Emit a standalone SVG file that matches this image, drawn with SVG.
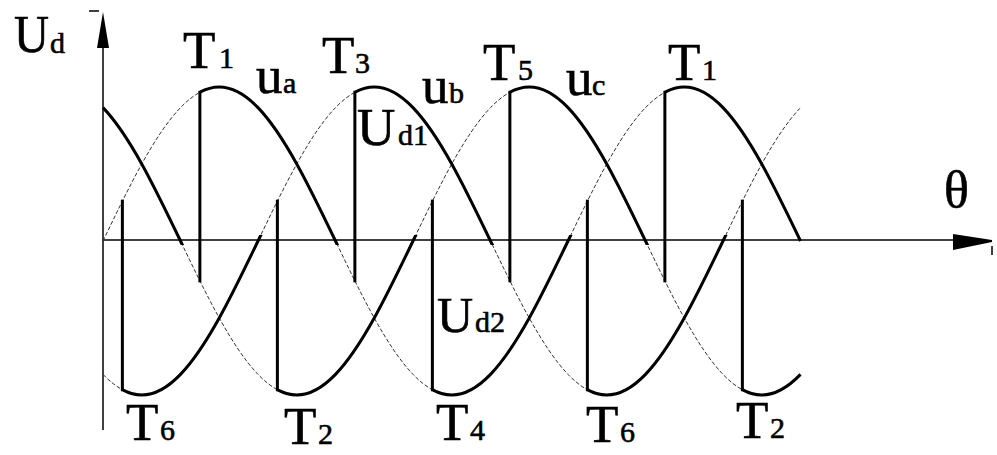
<svg xmlns="http://www.w3.org/2000/svg" xmlns:xlink="http://www.w3.org/1999/xlink" width="997" height="455" viewBox="0 0 997 455">
<style>
.thin{fill:none;stroke:#333;stroke-width:1;stroke-dasharray:4 2}
.thick{fill:none;stroke:#000;stroke-width:3;stroke-linejoin:round}
.vert{stroke:#000;stroke-width:3;stroke-linecap:square}
.axis{stroke:#000;stroke-width:1.5;fill:none}
text{font-family:"Liberation Serif","Times New Roman",serif;fill:#000;stroke:#000;stroke-width:0.6}
.m{font-size:53px}
.s{font-size:30px}
</style>
<defs>
<path id="ua" d="M103,241 C115.92,214.12 128.83,187.28 141.75,164 S167.58,121.07 180.5,107.63 S206.33,87 219.25,87 S245.08,94.19 258,107.63 S283.83,140.72 296.75,164 S322.58,214.12 335.5,241 S361.33,294.72 374.25,318 S400.08,360.93 413,374.37 S438.83,395 451.75,395 S477.58,387.81 490.5,374.37 S516.33,341.28 529.25,318 S555.08,267.88 568,241 S593.83,187.28 606.75,164 S632.58,121.07 645.5,107.63 S671.33,87 684.25,87 S710.08,94.19 723,107.63 S748.83,140.72 761.75,164 S787.58,214.12 800.5,241"/>
<path id="ub" d="M103,374.37 C115.92,387.81 128.83,395 141.75,395 S167.58,387.81 180.5,374.37 S206.33,341.28 219.25,318 S245.08,267.88 258,241 S283.83,187.28 296.75,164 S322.58,121.07 335.5,107.63 S361.33,87 374.25,87 S400.08,94.19 413,107.63 S438.83,140.72 451.75,164 S477.58,214.12 490.5,241 S516.33,294.72 529.25,318 S555.08,360.93 568,374.37 S593.83,395 606.75,395 S632.58,387.81 645.5,374.37 S671.33,341.28 684.25,318 S710.08,267.88 723,241 S748.83,187.28 761.75,164 S787.58,121.07 800.5,107.63"/>
<path id="uc" d="M103,107.63 C115.92,121.07 128.83,140.72 141.75,164 S167.58,214.12 180.5,241 S206.33,294.72 219.25,318 S245.08,360.93 258,374.37 S283.83,395 296.75,395 S322.58,387.81 335.5,374.37 S361.33,341.28 374.25,318 S400.08,267.88 413,241 S438.83,187.28 451.75,164 S477.58,121.07 490.5,107.63 S516.33,87 529.25,87 S555.08,94.19 568,107.63 S593.83,140.72 606.75,164 S632.58,214.12 645.5,241 S671.33,294.72 684.25,318 S710.08,360.93 723,374.37 S748.83,395 761.75,395 S787.58,387.81 800.5,374.37"/>
<clipPath id="cA"><rect x="199.875" y="0" width="155" height="245"/><rect x="664.875" y="0" width="140" height="245"/><rect x="432.375" y="235" width="155" height="220"/></clipPath>
<clipPath id="cB"><rect x="354.875" y="0" width="155" height="245"/><rect x="122.375" y="235" width="155" height="220"/><rect x="587.375" y="235" width="155" height="220"/></clipPath>
<clipPath id="cC"><rect x="100" y="0" width="99.875" height="245"/><rect x="509.875" y="0" width="155" height="245"/><rect x="277.375" y="235" width="155" height="220"/><rect x="742.375" y="235" width="62" height="220"/></clipPath>
</defs>
<g id="axes">
<line class="axis" x1="103" y1="44" x2="103" y2="430"/>
<polygon points="103,12 97,48 109,48" fill="#000"/>
<line class="axis" x1="89" y1="11" x2="99" y2="11"/>
<line class="axis" x1="103" y1="240" x2="958" y2="240"/>
<polygon points="953,234 992,240 992,242 953,250" fill="#000"/>
<line class="axis" x1="992" y1="246" x2="992" y2="255"/>
</g>
<g id="phases">
<use xlink:href="#ua" class="thin"/>
<use xlink:href="#ub" class="thin"/>
<use xlink:href="#uc" class="thin"/>
</g>
<g id="envelopes">
<use xlink:href="#ua" class="thick" clip-path="url(#cA)"/>
<use xlink:href="#ub" class="thick" clip-path="url(#cB)"/>
<use xlink:href="#uc" class="thick" clip-path="url(#cC)"/>
<line class="vert" x1="199.875" y1="92.25" x2="199.875" y2="280.86"/>
<line class="vert" x1="354.875" y1="92.25" x2="354.875" y2="280.86"/>
<line class="vert" x1="509.875" y1="92.25" x2="509.875" y2="280.86"/>
<line class="vert" x1="664.875" y1="92.25" x2="664.875" y2="280.86"/>
<line class="vert" x1="122.375" y1="201.14" x2="122.375" y2="389.75"/>
<line class="vert" x1="277.375" y1="201.14" x2="277.375" y2="389.75"/>
<line class="vert" x1="432.375" y1="201.14" x2="432.375" y2="389.75"/>
<line class="vert" x1="587.375" y1="201.14" x2="587.375" y2="389.75"/>
<line class="vert" x1="742.375" y1="201.14" x2="742.375" y2="389.75"/>
</g>
<g id="labels">
<text x="14" y="52" style="font-size:52px" textLength="35" lengthAdjust="spacingAndGlyphs">U</text><text x="50" y="53" class="s">d</text>
<text x="183" y="68" class="m">T</text><text x="219" y="68" class="s">1</text>
<text x="256" y="93" class="m">u</text><text x="283" y="93" class="s">a</text>
<text x="322" y="73" class="m">T</text><text x="355" y="73" class="s">3</text>
<text x="422" y="103" class="m">u</text><text x="449" y="103" class="s">b</text>
<text x="483" y="80" class="m">T</text><text x="518" y="80" class="s">5</text>
<text x="566" y="95" class="m">u</text><text x="592" y="95" class="s">c</text>
<text x="668" y="80" class="m">T</text><text x="702" y="80" class="s">1</text>
<text x="357" y="145" class="m">U</text><text x="398" y="145" class="s">d1</text>
<text x="437" y="332" style="font-size:50px">U</text><text x="475" y="332" class="s">d2</text>
<text x="126" y="440" class="m">T</text><text x="160" y="440" class="s">6</text>
<text x="284" y="444" class="m">T</text><text x="318" y="444" class="s">2</text>
<text x="436" y="440" class="m">T</text><text x="470" y="440" class="s">4</text>
<text x="586" y="442" class="m">T</text><text x="620" y="442" class="s">6</text>
<text x="736" y="438" class="m">T</text><text x="770" y="438" class="s">2</text>
<text x="944" y="207" style="font-size:52px">θ</text>
</g>
</svg>
